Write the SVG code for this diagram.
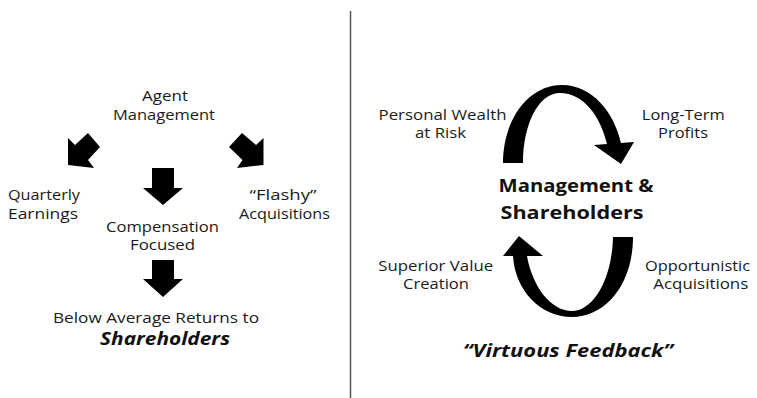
<svg xmlns="http://www.w3.org/2000/svg" width="757" height="398" viewBox="0 0 757 398">
<style>
.t{font-family:"Open Sans","Liberation Sans",Arial,sans-serif;font-size:14.5px;fill:#1a1a1a;text-anchor:middle}
.b{font-family:"Open Sans","Liberation Sans",Arial,sans-serif;font-size:18.5px;font-weight:bold;fill:#111;text-anchor:middle}
.bi{font-family:"Open Sans","Liberation Sans",Arial,sans-serif;font-size:17.5px;font-weight:bold;font-style:italic;fill:#111;text-anchor:middle}
.a{fill:#000}
</style>
<rect width="757" height="398" fill="#fff"/>
<line x1="350.5" y1="11" x2="350.5" y2="398" stroke="#555" stroke-width="1.5"/>
<g id="agent"><text class="t" x="165" y="101" textLength="46" lengthAdjust="spacingAndGlyphs">Agent</text><text class="t" x="164" y="120" textLength="102" lengthAdjust="spacingAndGlyphs">Management</text></g>
<g id="quarterly"><text class="t" x="44" y="200" textLength="72" lengthAdjust="spacingAndGlyphs">Quarterly</text><text class="t" x="43" y="219" textLength="70" lengthAdjust="spacingAndGlyphs">Earnings</text></g>
<g id="flashy"><text class="t" x="283" y="200" textLength="67" lengthAdjust="spacingAndGlyphs">“Flashy”</text><text class="t" x="284.5" y="219" textLength="91" lengthAdjust="spacingAndGlyphs">Acquisitions</text></g>
<g id="compensation"><text class="t" x="162.5" y="232" textLength="113" lengthAdjust="spacingAndGlyphs">Compensation</text><text class="t" x="162.5" y="250" textLength="65" lengthAdjust="spacingAndGlyphs">Focused</text></g>
<g id="below"><text class="t" x="156" y="323" textLength="206" lengthAdjust="spacingAndGlyphs">Below Average Returns to</text><text class="bi" x="165" y="345" textLength="130" lengthAdjust="spacingAndGlyphs">Shareholders</text></g>
<g id="wealth"><text class="t" x="442.5" y="120" textLength="128" lengthAdjust="spacingAndGlyphs">Personal Wealth</text><text class="t" x="440.5" y="138" textLength="51" lengthAdjust="spacingAndGlyphs">at Risk</text></g>
<g id="longterm"><text class="t" x="683.3" y="120" textLength="83" lengthAdjust="spacingAndGlyphs">Long-Term</text><text class="t" x="683" y="138" textLength="50" lengthAdjust="spacingAndGlyphs">Profits</text></g>
<g id="mgmt"><text class="b" x="576" y="192" textLength="155" lengthAdjust="spacingAndGlyphs">Management &amp;</text><text class="b" x="572" y="219" textLength="143" lengthAdjust="spacingAndGlyphs">Shareholders</text></g>
<g id="superior"><text class="t" x="435.7" y="271" textLength="115" lengthAdjust="spacingAndGlyphs">Superior Value</text><text class="t" x="436" y="289" textLength="66" lengthAdjust="spacingAndGlyphs">Creation</text></g>
<g id="opportunistic"><text class="t" x="697.5" y="271" textLength="105" lengthAdjust="spacingAndGlyphs">Opportunistic</text><text class="t" x="700.8" y="289" textLength="95" lengthAdjust="spacingAndGlyphs">Acquisitions</text></g>
<g id="virtuous"><text class="bi" x="568" y="357" textLength="210" lengthAdjust="spacingAndGlyphs">“Virtuous Feedback”</text></g>
<g id="connectors">
<polygon class="a" points="68,165 68,138 75,145 88,133 100,147 88,160 94,168"/>
<polygon class="a" points="263.5,165 263.5,138 256,145 242,133 229,147 242.5,160 237,168"/>
<polygon class="a" points="152,168 174,168 174,188 183,188 163,205 143,188 152,188"/>
<polygon class="a" points="152,260 174,260 174,279 183,279 163,297 143,279 152,279"/>
<path class="a" d="M503,163 C503,120 528,85 562,85 C592,85 614,112 621,143 L634,142 L621,164 L594,145 L607,144 C600,115 583,93 560,93 C538,93 523,125 523,163 Z"/>
<path class="a" d="M633,237 C633,285 605,317 572,317 C540,317 515,290 513,256 L503,256 L519,236 L543,256 L527,256 C532,285 550,311 572,311 C593,311 612,280 613,237 Z"/>
</g>
</svg>
